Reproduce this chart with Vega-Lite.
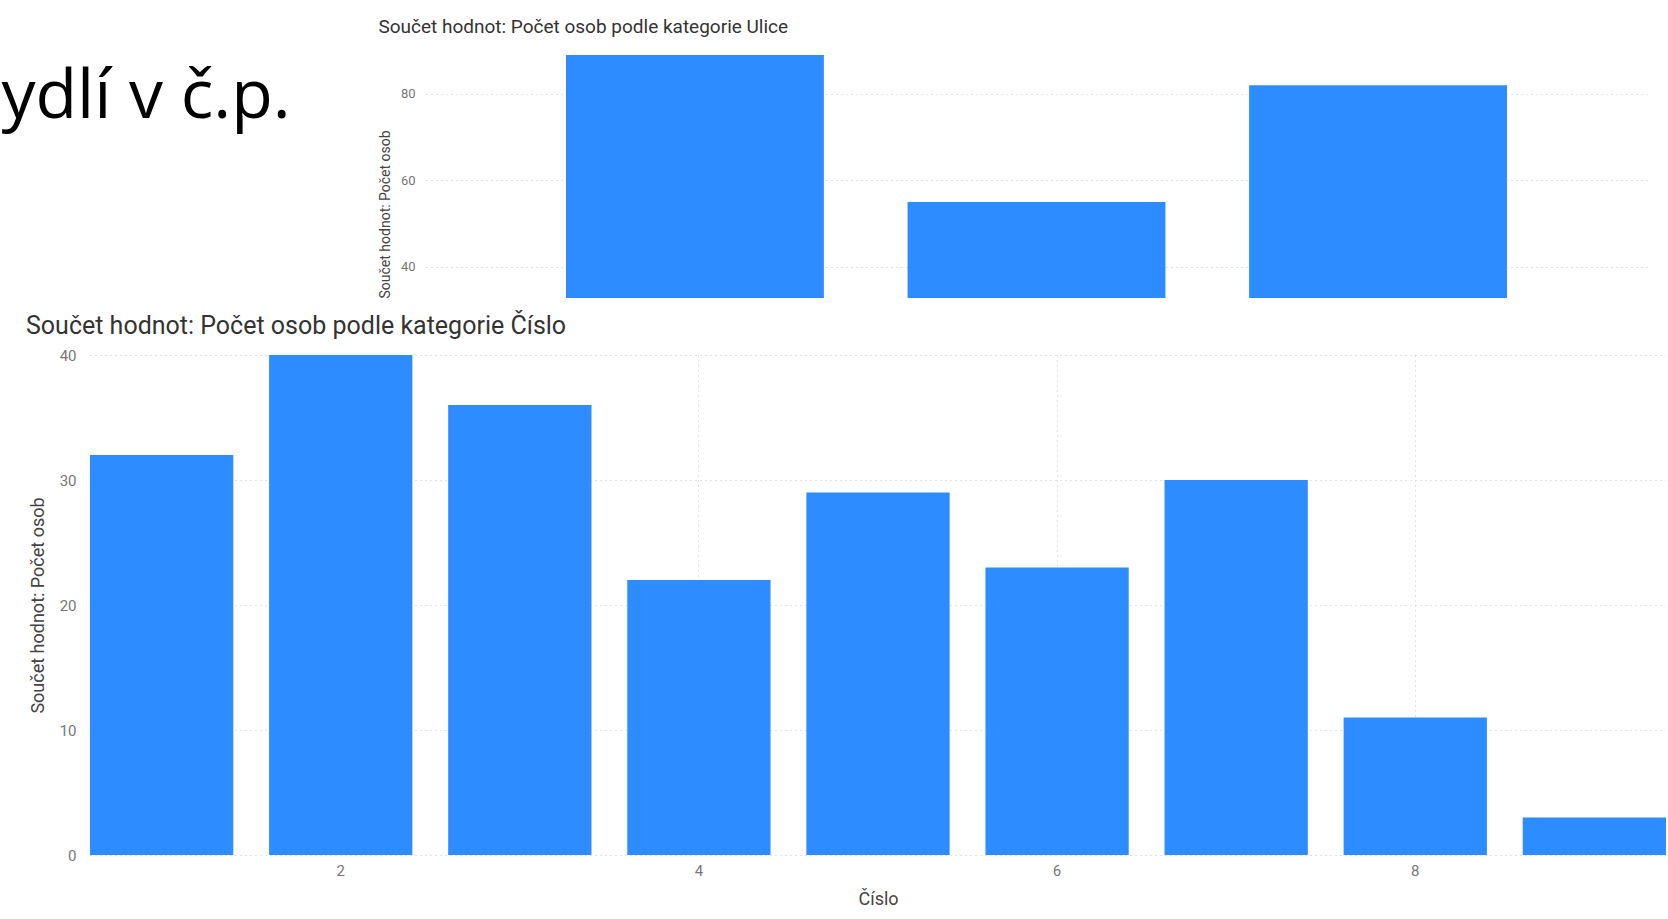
{
  "$schema": "https://vega.github.io/schema/vega-lite/v6.json",
  "background": "white",
  "padding": {"top": 18, "left": 0, "right": 0, "bottom": 0},
  "config": {
    "font": "Roboto",
    "view": {"stroke": null},
    "axis": {
      "ticks": false,
      "domain": false,
      "gridDash": [1, 4],
      "gridColor": "#c4c4c4",
      "labelColor": "#777777",
      "titleColor": "#444444",
      "titleFontWeight": "normal"
    }
  },
  "datasets": {
    "nadpis": [{"label": "ydlí v č.p."}],
    "ulice": [
      {"Ulice": "Ulice 1", "Pocet": 89},
      {"Ulice": "Ulice 2", "Pocet": 55},
      {"Ulice": "Ulice 3", "Pocet": 82}
    ],
    "cislo": [
      {"Cislo": 1, "Pocet": 32},
      {"Cislo": 2, "Pocet": 40},
      {"Cislo": 3, "Pocet": 36},
      {"Cislo": 4, "Pocet": 22},
      {"Cislo": 5, "Pocet": 29},
      {"Cislo": 6, "Pocet": 23},
      {"Cislo": 7, "Pocet": 30},
      {"Cislo": 8, "Pocet": 11},
      {"Cislo": 9, "Pocet": 3}
    ],
    "prazdne": []
  },
  "spacing": 16,
  "vconcat": [
    {
      "spacing": 86,
      "hconcat": [
        {
          "data": {"name": "nadpis"},
          "width": 292,
          "height": 152,
          "mark": {"type": "text", "font": "Open Sans", "fontSize": 68, "align": "center", "baseline": "alphabetic", "color": "#000000"},
          "encoding": {"text": {"field": "label", "type": "nominal"}}
        },
        {
          "data": {"name": "ulice"},
          "width": 1221,
          "height": 256,
          "title": {"text": "Součet hodnot: Počet osob podle kategorie Ulice", "anchor": "start", "frame": "bounds", "fontSize": 19, "fontWeight": "normal", "color": "#333333", "offset": 5},
          "mark": {"type": "bar", "color": "#2D8CFF", "clip": true},
          "encoding": {
            "x": {"field": "Ulice", "type": "nominal", "sort": null, "axis": null, "scale": {"paddingInner": 0.245, "paddingOuter": 0.41}},
            "y": {
              "field": "Pocet", "type": "quantitative",
              "title": "Součet hodnot: Počet osob",
              "scale": {"domain": [32.8, 92], "nice": false, "zero": false},
              "axis": {"values": [40, 60, 80], "labelFontSize": 13, "labelPadding": 11, "titleFontSize": 14, "titlePadding": 8, "titleAnchor": "start"}
            }
          }
        }
      ]
    },
    {
      "spacing": 25,
      "hconcat": [
        {
          "data": {"name": "prazdne"},
          "width": 1,
          "height": 1,
          "mark": "point"
        },
        {
          "data": {"name": "cislo"},
          "width": 1576,
          "height": 500,
          "title": {"text": "Součet hodnot: Počet osob podle kategorie Číslo", "anchor": "start", "frame": "group", "dx": -64, "fontSize": 25, "fontWeight": "normal", "color": "#333333", "offset": 9},
          "mark": {"type": "bar", "color": "#2D8CFF"},
          "encoding": {
            "x": {
              "field": "Cislo", "type": "ordinal", "title": "Číslo",
              "scale": {"paddingInner": 0.2, "paddingOuter": 0},
              "axis": {"values": [2, 4, 6, 8], "labelAngle": 0, "grid": true, "labelFontSize": 15, "labelPadding": 8, "titleFontSize": 18, "titlePadding": 12}
            },
            "y": {
              "field": "Pocet", "type": "quantitative", "title": "Součet hodnot: Počet osob",
              "scale": {"domain": [0, 40], "nice": false},
              "axis": {"values": [0, 10, 20, 30, 40], "labelFontSize": 15, "labelPadding": 14, "titleFontSize": 18, "titlePadding": 12}
            }
          }
        }
      ]
    }
  ]
}
